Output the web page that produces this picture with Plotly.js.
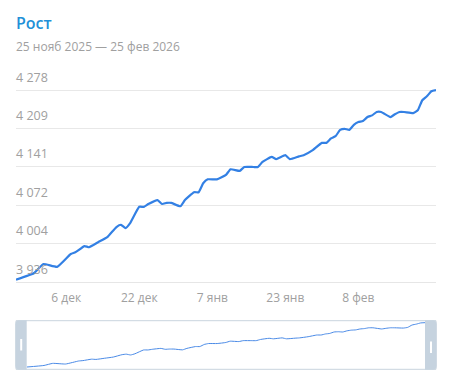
<!DOCTYPE html>
<html>
<head>
<meta charset="utf-8">
<script src="https://cdn.plot.ly/plotly-3.0.1.min.js"></script>
<style>
html,body{margin:0;padding:0;background:#fff;}
#chart{width:449px;height:382px;}
</style>
</head>
<body>
<div id="chart"></div>
<script>
const dates = ["2025-11-25","2025-11-29","2025-12-01","2025-12-04","2025-12-07","2025-12-08","2025-12-10","2025-12-11","2025-12-13","2025-12-15","2025-12-17","2025-12-18","2025-12-19","2025-12-20","2025-12-22","2025-12-23","2025-12-24","2025-12-26","2025-12-27","2025-12-28","2025-12-29","2025-12-31","2026-01-01","2026-01-03","2026-01-04","2026-01-05","2026-01-06","2026-01-08","2026-01-10","2026-01-11","2026-01-13","2026-01-14","2026-01-16","2026-01-17","2026-01-18","2026-01-20","2026-01-21","2026-01-23","2026-01-24","2026-01-26","2026-01-27","2026-01-29","2026-01-31","2026-02-01","2026-02-02","2026-02-03","2026-02-04","2026-02-05","2026-02-06","2026-02-07","2026-02-08","2026-02-09","2026-02-10","2026-02-11","2026-02-12","2026-02-13","2026-02-15","2026-02-16","2026-02-17","2026-02-18","2026-02-20","2026-02-21","2026-02-22","2026-02-23","2026-02-24","2026-02-25"];
const values = [3940,3952,3968,3963,3986,3989,4000,3998,4007,4016,4034,4038,4032,4041,4070,4070,4075,4082,4075,4077,4077,4071,4082,4096,4096,4112,4119,4119,4127,4137,4134,4141,4141,4141,4150,4159,4155,4162,4155,4160,4162,4171,4184,4184,4192,4196,4207,4209,4207,4216,4221,4223,4230,4233,4239,4239,4230,4235,4239,4239,4237,4242,4260,4267,4276,4278];

const yTickVals = [3936, 4004.4, 4072.8, 4141.2, 4209.6, 4278];
const yTickText = ["3 936", "4 004", "4 072", "4 141", "4 209", "4 278"];
const xTickVals = ["2025-12-06", "2025-12-22", "2026-01-07", "2026-01-23", "2026-02-08"];
const xTickText = ["6 дек", "22 дек", "7 янв", "23 янв", "8 фев"];

const titleText = "Рост";
const subtitleText = "25 нояб 2025 — 25 фев 2026";

// figure geometry (pixels)
const W = 449, H = 382;
const mL = 16, mR = 13, mT = 89, mB = 13;
const pw = W - mL - mR, ph = H - mT - mB;
const px = x => (x - mL) / pw;
const py = y => (H - mB - y) / ph;

function roundRect(x0, y0, x1, y1, rl, rr) {
  const P = (x, y) => px(x).toFixed(5) + "," + py(y).toFixed(5);
  let d = "M" + P(x0 + rl, y0) + " L" + P(x1 - rr, y0);
  d += rr ? " Q" + P(x1, y0) + " " + P(x1, y0 + rr) : " L" + P(x1, y0);
  d += " L" + P(x1, y1 - rr);
  d += rr ? " Q" + P(x1, y1) + " " + P(x1 - rr, y1) : " L" + P(x1, y1);
  d += " L" + P(x0 + rl, y1);
  d += rl ? " Q" + P(x0, y1) + " " + P(x0, y1 - rl) : " L" + P(x0, y1);
  d += " L" + P(x0, y0 + rl);
  d += rl ? " Q" + P(x0, y0) + " " + P(x0 + rl, y0) : " L" + P(x0, y0);
  return d + " Z";
}

const handleColor = "#c6d3df";
const grey = "#a0a0a0";
const font = "'Open Sans', 'Noto Sans', sans-serif";

const traces = [
  {x: dates, y: values, type: "scatter", mode: "lines",
   line: {color: "#3380e4", width: 2.2, shape: "spline", smoothing: 0.4},
   xaxis: "x", yaxis: "y", hoverinfo: "x+y"},
  {x: dates, y: values, type: "scatter", mode: "lines",
   line: {color: "#4a8ae6", width: 1, shape: "spline", smoothing: 0.4},
   xaxis: "x2", yaxis: "y2", hoverinfo: "skip"}
];

const layout = {
  width: W, height: H,
  margin: {l: mL, r: mR, t: mT, b: mB, pad: 0},
  paper_bgcolor: "#fff", plot_bgcolor: "#fff",
  showlegend: false,
  font: {family: font, color: grey, size: 12},
  xaxis: {
    type: "date", domain: [0, 1], anchor: "y",
    range: ["2025-11-25", "2026-02-25"],
    tickvals: xTickVals, ticktext: xTickText,
    ticks: "outside", ticklen: 5, tickcolor: "rgba(0,0,0,0)",
    showgrid: false, zeroline: false,
    showline: true, linecolor: "#e6e6e6", linewidth: 1,
    tickfont: {size: 12, color: grey, family: font},
    fixedrange: true
  },
  yaxis: {
    domain: [py(282), 1], anchor: "x",
    range: [3936, 4280],
    tickvals: yTickVals, ticktext: yTickText,
    ticklabelposition: "inside top",
    ticklabeloverflow: "allow",
    ticklabelshift: -4,
    ticklabelstandoff: -3,
    ticks: "", showgrid: true, gridcolor: "#e8e8e8", gridwidth: 1,
    zeroline: false, showline: false,
    tickfont: {size: 12.5, color: grey, family: font},
    fixedrange: true
  },
  xaxis2: {
    type: "date", domain: [px(26.7), px(425)], anchor: "y2",
    range: ["2025-11-25", "2026-02-25"],
    showticklabels: false, ticks: "", showgrid: false, zeroline: false,
    showline: false, fixedrange: true
  },
  yaxis2: {
    domain: [py(369.3), py(320.7)], anchor: "x2",
    range: [3925, 4293],
    showticklabels: false, ticks: "", showgrid: false, zeroline: false,
    showline: false, fixedrange: true
  },
  shapes: [
    {type: "rect", xref: "paper", yref: "paper",
     x0: px(16), x1: px(436), y0: py(320.7), y1: py(369.3),
     line: {color: "#c9d4de", width: 1}, fillcolor: "rgba(0,0,0,0)", layer: "above"},
    {type: "path", xref: "paper", yref: "paper", path: roundRect(15.3, 320.3, 26.7, 369.7, 4, 0),
     fillcolor: handleColor, line: {width: 0}, layer: "above"},
    {type: "path", xref: "paper", yref: "paper", path: roundRect(425, 320.3, 436.7, 369.7, 0, 4),
     fillcolor: handleColor, line: {width: 0}, layer: "above"},
    {type: "rect", xref: "paper", yref: "paper",
     x0: px(20.2), x1: px(22.2), y0: py(339), y1: py(350.5),
     fillcolor: "#ffffff", line: {width: 0}, layer: "above"},
    {type: "rect", xref: "paper", yref: "paper",
     x0: px(430), x1: px(432), y0: py(341.5), y1: py(353),
     fillcolor: "#ffffff", line: {width: 0}, layer: "above"}
  ],
  annotations: [
    {text: titleText, xref: "paper", yref: "paper", x: px(14), y: py(23),
     xanchor: "left", yanchor: "middle", showarrow: false,
     font: {family: font, size: 16, color: "#2290d8", weight: 600}},
    {text: subtitleText, xref: "paper", yref: "paper", x: px(14), y: py(46),
     xanchor: "left", yanchor: "middle", showarrow: false,
     font: {family: font, size: 12, color: grey}}
  ]
};

Plotly.newPlot("chart", traces, layout, {displayModeBar: false});
</script>
</body>
</html>
